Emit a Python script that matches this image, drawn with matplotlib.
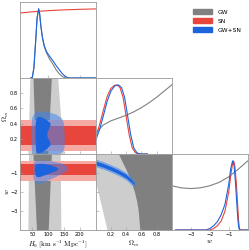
import numpy as np
import matplotlib.pyplot as plt
from matplotlib.patches import Patch

plt.rcParams['mathtext.fontset'] = 'cm'
plt.rcParams['font.family'] = 'DejaVu Sans'

# axis ranges and ticks
h0_lim = (10, 250)
om_lim = (0, 1)
w_lim = (-4, 0)
h0_ticks = [50, 100, 150, 200]
om_ticks = [0.2, 0.4, 0.6, 0.8]
w_ticks = [-3, -2, -1]

# 1D marginals (peak normalised)
h0_x = [45, 50, 55, 60, 65, 70, 73, 77, 82, 88, 95, 105, 115, 125, 135, 145, 155, 165, 250]
h0_gwsn = [0, 0.01, 0.15, 0.5, 0.87, 1.0, 0.93, 0.75, 0.58, 0.46, 0.38, 0.31, 0.25, 0.18, 0.12, 0.06, 0.02, 0.0, 0]
h0_gw = [0, 0.01, 0.15, 0.5, 0.87, 1.0, 0.93, 0.75, 0.58, 0.45, 0.36, 0.27, 0.2, 0.12, 0.06, 0.02, 0.0, 0.0, 0]
h0_sn_x = [10, 50, 100, 150, 200, 250]
h0_sn = [0.94, 0.958, 0.975, 0.986, 0.994, 1.0]

om_x = [0, 0.05, 0.1, 0.15, 0.2, 0.25, 0.28, 0.32, 0.36, 0.4, 0.44, 0.48, 0.52, 0.56, 0.6, 0.68]
om_sn = [0.25, 0.42, 0.63, 0.83, 0.95, 0.995, 1.0, 0.96, 0.82, 0.55, 0.28, 0.09, 0.02, 0.0, 0, 0]
om_x_b = [0, 0.05, 0.1, 0.15, 0.2, 0.25, 0.3, 0.34, 0.38, 0.42, 0.46, 0.5, 0.54, 0.58, 0.62, 0.68]
om_gwsn = [0.2, 0.35, 0.55, 0.76, 0.91, 0.985, 1.0, 0.96, 0.82, 0.55, 0.28, 0.09, 0.02, 0.0, 0, 0]
om_gw_x = [0, 0.1, 0.2, 0.3, 0.4, 0.5, 0.6, 0.7, 0.8, 0.9, 1.0]
om_gw = [0.3, 0.42, 0.48, 0.52, 0.56, 0.61, 0.67, 0.74, 0.82, 0.91, 1.0]

w_x_b = [-3.8, -2.2, -2.0, -1.8, -1.6, -1.4, -1.2, -1.0, -0.9, -0.8, -0.72, -0.65, -0.58, -0.52, -0.47, -0.43, 0]
w_gwsn = [0, 0, 0.02, 0.06, 0.12, 0.22, 0.37, 0.66, 0.88, 1.0, 0.93, 0.7, 0.4, 0.15, 0.03, 0, 0]
w_x_r = [-3.8, -2.0, -1.8, -1.6, -1.4, -1.2, -1.0, -0.9, -0.8, -0.74, -0.68, -0.6, -0.54, -0.48, -0.44, -0.4, 0]
w_sn = [0, 0, 0.02, 0.06, 0.13, 0.27, 0.55, 0.78, 0.96, 1.0, 0.93, 0.68, 0.4, 0.13, 0.03, 0, 0]
w_gw_x = [-4, -3.5, -3, -2.5, -2, -1.5, -1, -0.5, 0]
w_gw = [0.64, 0.61, 0.6, 0.61, 0.64, 0.69, 0.77, 0.88, 1.0]

# GW bands in H0 (lo, hi) at the two ends of the other axis
gw_om_y = [1.0, 0.0]
gw_om_h0_1s = [(52, 110), (60, 98)]
gw_om_h0_2s = [(42, 130), (36, 148)]
gw_w_y = [0.0, -4.0]
gw_w_h0_1s = [(52, 110), (63, 100)]
gw_w_h0_2s = [(38, 138), (36, 140)]

# GW region in Omega_m - w (left edge of the allowed area)
gw_ow_w = [0, -0.5, -1, -1.5, -2, -2.5, -3, -3.5, -4]
gw_ow_1s = [0.3, 0.36, 0.42, 0.47, 0.51, 0.54, 0.56, 0.57, 0.58]
gw_ow_2s = [-0.1, -0.05, 0.0, 0.0, 0.03, 0.06, 0.09, 0.12, 0.15]

# SN bands
sn_om_1s = (0.12, 0.37)
sn_om_2s = (0.04, 0.45)
sn_w_1s = (-1.1, -0.55)
sn_w_2s = (-1.4, -0.38)

# GW+SN contours
bl_h0om_2s = [(50, 0.0), (47, 0.15), (47, 0.35), (50, 0.48), (58, 0.54), (75, 0.56), (100, 0.55),
              (125, 0.52), (143, 0.47), (150, 0.4), (152, 0.25), (152, 0.1), (148, 0.03),
              (135, 0.0)]
bl_h0om_1s = [(62, 0.05), (60, 0.2), (60, 0.38), (63, 0.46), (70, 0.49), (82, 0.48), (98, 0.44),
              (108, 0.4), (104, 0.34), (97, 0.28), (98, 0.22), (106, 0.16), (108, 0.12),
              (95, 0.06), (80, 0.02), (70, 0.01), (64, 0.02)]
bl_h0w_2s = [(55, -0.45), (62, -0.36), (80, -0.35), (110, -0.38), (140, -0.48), (158, -0.62),
             (164, -0.78), (158, -0.92), (140, -1.08), (115, -1.28), (90, -1.48), (72, -1.58),
             (60, -1.52), (54, -1.3), (52, -0.9), (53, -0.6)]
bl_h0w_1s = [(60, -0.58), (66, -0.52), (85, -0.52), (110, -0.6), (128, -0.72), (133, -0.8),
             (125, -0.9), (105, -1.02), (85, -1.15), (70, -1.23), (62, -1.18), (59, -1.0),
             (58, -0.75)]
bl_omw_om = [-0.02, 0.1, 0.2, 0.3, 0.4, 0.47, 0.52]
bl_omw_w = [-0.45, -0.6, -0.76, -0.94, -1.17, -1.42, -1.6]
bl_omw_half_1s = [0.1, 0.1, 0.1, 0.1, 0.1, 0.08, 0.0]
bl_omw_half_2s = [0.2, 0.2, 0.2, 0.2, 0.2, 0.2, 0.12]

c_gw, c_gw2 = '#808080', '#cdcdcd'
c_sn, c_sn2 = '#e8453c', '#f5a9a3'
c_bl, c_bl2 = '#1b64dd', '#3f86ee'
spine_c = '#999999'

fig, axes = plt.subplots(3, 3, figsize=(2.49, 2.5), dpi=100)
fig.subplots_adjust(left=0.079, right=0.995, top=0.992, bottom=0.08, wspace=0, hspace=0)

lims = [h0_lim, om_lim, w_lim]
ticks = [h0_ticks, om_ticks, w_ticks]

for i in range(3):
    for j in range(3):
        ax = axes[i, j]
        if j > i:
            ax.axis('off')
            continue
        for s in ax.spines.values():
            s.set_color(spine_c)
            s.set_linewidth(0.6)
        ax.set_xlim(lims[j])
        ax.set_xticks(ticks[j])
        ax.tick_params(direction='in', length=2, width=0.4, color=spine_c,
                       labelsize=3.6, pad=1.5)
        if i != 2:
            ax.set_xticklabels([])
        if i == j:
            ax.set_ylim(0, 1.1)
            ax.set_yticks([])
        else:
            ax.set_ylim(lims[i])
            ax.set_yticks(ticks[i])
            if j != 0:
                ax.set_yticklabels([])

# diagonal
ax = axes[0, 0]
ax.plot(h0_sn_x, h0_sn, color=c_sn, lw=0.8)
ax.plot(h0_x, h0_gw, color=c_gw, lw=0.8)
ax.plot(h0_x, h0_gwsn, color=c_bl, lw=0.8)

ax = axes[1, 1]
ax.plot(om_gw_x, om_gw, color=c_gw, lw=0.8)
ax.plot(om_x, om_sn, color=c_sn, lw=0.8)
ax.plot(om_x_b, om_gwsn, color=c_bl, lw=0.8)

ax = axes[2, 2]
ax.plot(w_gw_x, w_gw, color=c_gw, lw=0.8)
ax.plot(w_x_r, w_sn, color=c_sn, lw=0.8)
ax.plot(w_x_b, w_gwsn, color=c_bl, lw=0.8)

# H0 - Omega_m
ax = axes[1, 0]
ax.fill_betweenx(gw_om_y, [p[0] for p in gw_om_h0_2s], [p[1] for p in gw_om_h0_2s], color=c_gw2, lw=0)
ax.fill_betweenx(gw_om_y, [p[0] for p in gw_om_h0_1s], [p[1] for p in gw_om_h0_1s], color=c_gw, lw=0)
ax.axhspan(*sn_om_2s, color=c_sn2, lw=0)
ax.axhspan(*sn_om_1s, color=c_sn, lw=0)
ax.fill(*zip(*bl_h0om_2s), color=c_bl2, alpha=0.55, lw=0)
ax.fill(*zip(*bl_h0om_1s), color=c_bl, lw=0)

# H0 - w
ax = axes[2, 0]
ax.fill_betweenx(gw_w_y, [p[0] for p in gw_w_h0_2s], [p[1] for p in gw_w_h0_2s], color=c_gw2, lw=0)
ax.fill_betweenx(gw_w_y, [p[0] for p in gw_w_h0_1s], [p[1] for p in gw_w_h0_1s], color=c_gw, lw=0)
ax.axhspan(*sn_w_2s, color=c_sn2, lw=0)
ax.axhspan(*sn_w_1s, color=c_sn, lw=0)
ax.fill(*zip(*bl_h0w_2s), color=c_bl2, alpha=0.55, lw=0)
ax.fill(*zip(*bl_h0w_1s), color=c_bl, lw=0)

# Omega_m - w
ax = axes[2, 1]
ax.fill_betweenx(gw_ow_w, gw_ow_2s, 1, color=c_gw2, lw=0)
ax.fill_betweenx(gw_ow_w, gw_ow_1s, 1, color=c_gw, lw=0)
om_b = np.array(bl_omw_om)
w_b = np.array(bl_omw_w)
ax.fill_between(om_b, w_b - np.array(bl_omw_half_2s), w_b + np.array(bl_omw_half_2s),
                color=c_bl2, alpha=0.55, lw=0)
ax.fill_between(om_b, w_b - np.array(bl_omw_half_1s), w_b + np.array(bl_omw_half_1s),
                color=c_bl, lw=0)

# labels
lab_fs = 5
axes[2, 0].set_xlabel(r'$H_0\ [\mathrm{km\ s^{-1}\ Mpc^{-1}}]$', fontsize=lab_fs, labelpad=1)
axes[2, 1].set_xlabel(r'$\Omega_m$', fontsize=lab_fs, labelpad=1)
axes[2, 2].set_xlabel(r'$w$', fontsize=lab_fs, labelpad=1)
axes[1, 0].set_ylabel(r'$\Omega_m$', fontsize=lab_fs)
axes[2, 0].set_ylabel(r'$w$', fontsize=lab_fs)
axes[1, 0].yaxis.set_label_coords(-0.12, 0.5)
axes[2, 0].yaxis.set_label_coords(-0.12, 0.5)

handles = [Patch(color=c_gw, label='GW'), Patch(color=c_sn, label='SN'),
           Patch(color=c_bl, label='GW+SN')]
fig.legend(handles=handles, loc='upper right', bbox_to_anchor=(0.99, 0.985), frameon=False,
           fontsize=4.3, handlelength=3.2, handleheight=1.0, labelspacing=0.55, handletextpad=0.8)

fig.savefig('out.png', dpi=100)
